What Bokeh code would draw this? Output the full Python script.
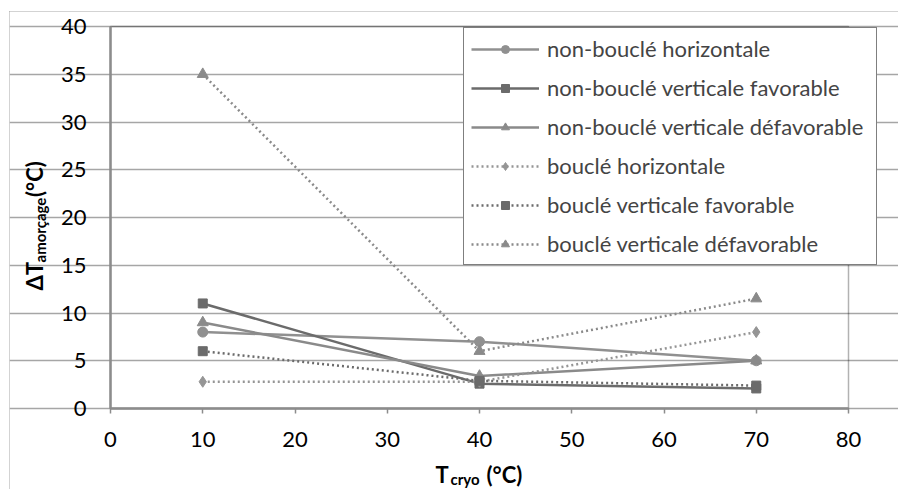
import math
from bokeh.plotting import figure
from bokeh.models import (Label, Legend, LegendItem, FixedTicker, Range1d,
                          BoxAnnotation)
from bokeh.embed import file_html
from bokeh.resources import INLINE

# ---- data ----
t_cryo = [10, 40, 70]
nb_horiz = [8.0, 7.0, 5.0]
nb_vert_fav = [11.0, 2.6, 2.1]
nb_vert_defav = [9.0, 3.4, 5.0]
b_horiz = [2.8, 2.8, 8.0]
b_vert_fav = [6.0, 2.9, 2.4]
b_vert_defav = [35.0, 6.0, 11.5]

series_names = [
    "non-bouclé horizontale",
    "non-bouclé verticale favorable",
    "non-bouclé verticale défavorable",
    "bouclé horizontale",
    "bouclé verticale favorable",
    "bouclé verticale défavorable",
]
x_ticks = [0, 10, 20, 30, 40, 50, 60, 70, 80]
y_ticks = [0, 5, 10, 15, 20, 25, 30, 35, 40]

FONT = "Lato"

# layout (pixels): canvas 889x478, plot area 738x382 starting 101px from left, 15px from top
W, H = 889, 478
PL, PT, PW, PH = 101, 15, 738, 382
xmin, xmax = x_ticks[0], x_ticks[-1]
ymin, ymax = y_ticks[0], y_ticks[-1]
kx = PW / (xmax - xmin)
ky = PH / (ymax - ymin)
x_range = Range1d(xmin - PL / kx, xmax + (W - PL - PW) / kx)
y_range = Range1d(ymin - (H - PT - PH) / ky, ymax + PT / ky)

p = figure(
    width=W, height=H, x_range=x_range, y_range=y_range,
    output_backend="svg", toolbar_location=None,
    min_border=0, min_border_left=0, min_border_right=0,
    min_border_top=0, min_border_bottom=0,
    margin=(11, 0, 0, 9),
)
p.styles = {"outline": "1px solid #a6a6a6", "outline-offset": "-1px"}
p.background_fill_color = "white"
p.border_fill_color = "white"
p.outline_line_color = None

p.xgrid.visible = False
p.ygrid.grid_line_color = "#a6a6a6"
p.ygrid.grid_line_width = 1.5
p.ygrid.ticker = FixedTicker(ticks=y_ticks)
p.ygrid.bounds = (xmin, xmax)

# black top/right frame lines of the plot area
p.add_layout(BoxAnnotation(left=xmin, right=xmax, bottom=ymin, top=ymax,
                           fill_alpha=0, line_color="black", line_width=1.5,
                           level="underlay"))

p.xaxis.ticker = FixedTicker(ticks=x_ticks)
p.yaxis.ticker = FixedTicker(ticks=y_ticks)
p.xaxis.fixed_location = ymin
p.yaxis.fixed_location = xmin
p.xaxis.bounds = (xmin, xmax)
p.yaxis.bounds = (ymin, ymax)
for ax in (p.xaxis[0], p.yaxis[0]):
    ax.axis_line_color = "#8c8c8c"
    ax.axis_line_width = 2.5
    ax.minor_tick_line_color = None
    ax.major_label_text_font = FONT
    ax.major_label_text_font_size = "22px"
    ax.major_label_text_color = "black"
p.xaxis.major_tick_line_color = "#8c8c8c"
p.xaxis.major_tick_line_width = 1.5
p.xaxis.major_tick_out = 5
p.xaxis.major_tick_in = 0
p.xaxis.major_label_standoff = 18
p.yaxis.major_tick_line_color = None
p.yaxis.major_tick_out = 0
p.yaxis.major_tick_in = 0
p.yaxis.major_label_standoff = 24

styles = [
    (nb_horiz, "#909090", "solid", "circle", 10),
    (nb_vert_fav, "#6b6b6b", "solid", "square", 9),
    (nb_vert_defav, "#8a8a8a", "solid", "triangle", 11),
    (b_horiz, "#959595", "2 3", "diamond", 11),
    (b_vert_fav, "#6b6b6b", "2 3", "square", 9),
    (b_vert_defav, "#8a8a8a", "2 3", "triangle", 11),
]

items = []
for name, (vals, col, dash, marker, size) in zip(series_names, styles):
    ln = p.line(t_cryo, vals, line_color=col, line_width=2.5, line_dash=dash)
    sc = p.scatter(t_cryo, vals, marker=marker, size=size,
                   fill_color=col, line_color=col)
    items.append(LegendItem(label=name, renderers=[ln, sc]))

legend = Legend(
    items=items, location=(454, 224),
    glyph_width=68, glyph_height=20, label_height=20,
    label_standoff=8, spacing=12, padding=7, margin=0,
    border_line_color="black", border_line_width=1.5,
    background_fill_color="white", background_fill_alpha=1.0,
    label_text_font=FONT, label_text_font_size="22px",
    label_width=322,
)
p.add_layout(legend)

# axis titles (with subscripts)
def lab(x, y, text, size, angle=0.0):
    p.add_layout(Label(x=x, y=y, text=text, text_font=FONT,
                       text_font_size=size, text_font_style="bold",
                       text_color="black", text_align="left",
                       text_baseline="alphabetic", angle=angle))

# x title: T_cryo (°C)
lab(35.23, -6.91, "T", "22px")
lab(36.86, -7.43, "cryo", "15px")
lab(40.76, -6.91, "(°C)", "22px")

# y title: ΔT_amorçage (°C)
a = math.pi / 2
lab(-8.24, 12.36, "ΔT", "22px", a)
lab(-7.59, 15.29, "amorçage", "15px", a)
lab(-8.24, 22.15, "(°C)", "22px", a)

open("out.html", "w").write(file_html(p, INLINE))
